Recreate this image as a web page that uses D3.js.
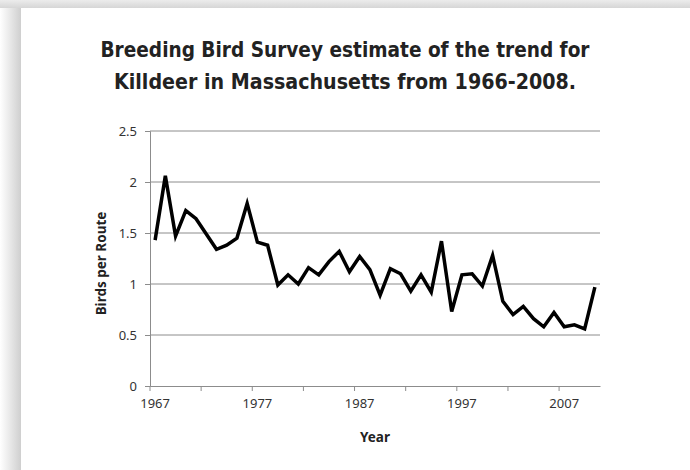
<!DOCTYPE html>
<html>
<head>
<meta charset="utf-8">
<script src="https://cdn.jsdelivr.net/npm/d3@7"></script>
<style>
  body { margin: 0; background: #fff; }
  svg { display: block; }
</style>
</head>
<body>
<div id="chart"></div>
<script>
// Killdeer, birds per route, one value per year
const years = d3.range(1967, 2011);
const birds = [
  1.43, 2.06, 1.47, 1.72, 1.64, 1.49, 1.34, 1.38, 1.45, 1.79,
  1.41, 1.38, 0.99, 1.09, 1.00, 1.16, 1.09, 1.22, 1.32, 1.12,
  1.27, 1.14, 0.89, 1.15, 1.10, 0.93, 1.09, 0.92, 1.42, 0.73,
  1.09, 1.10, 0.98, 1.28, 0.83, 0.70, 0.78, 0.66, 0.58, 0.72,
  0.58, 0.60, 0.56, 0.97
];
const yTicks = [0, 0.5, 1, 1.5, 2, 2.5];
const xLabels = [1967, 1977, 1987, 1997, 2007];
const xTickYears = years.filter(d => (d - 1967) % 5 === 0);
const titleLines = [
  "Breeding Bird Survey estimate of the trend for",
  "Killdeer in Massachusetts from 1966-2008."
];
const titleWidths = [489, 462];

const W = 690, H = 470;
const margin = {top: 131, right: 90, bottom: 84, left: 150};
const width = W - margin.left - margin.right;
const height = H - margin.top - margin.bottom;

const svg = d3.select("#chart").append("svg")
  .attr("width", W)
  .attr("height", H);

// page shadow
const defs = svg.append("defs");
const gTop = defs.append("linearGradient").attr("id", "shTop")
  .attr("x1", 0).attr("y1", 0).attr("x2", 0).attr("y2", 1);
gTop.append("stop").attr("offset", "0%").attr("stop-color", "#ececec");
gTop.append("stop").attr("offset", "100%").attr("stop-color", "#d6d6d6");
const gLeft = defs.append("linearGradient").attr("id", "shLeft")
  .attr("x1", 0).attr("y1", 0).attr("x2", 1).attr("y2", 0);
gLeft.append("stop").attr("offset", "0%").attr("stop-color", "#ffffff");
gLeft.append("stop").attr("offset", "100%").attr("stop-color", "#cfcfcf");

svg.append("rect").attr("x", 0).attr("y", 0).attr("width", W).attr("height", 8)
  .attr("fill", "url(#shTop)");
svg.append("rect").attr("x", 0).attr("y", 8).attr("width", 21).attr("height", H - 8)
  .attr("fill", "url(#shLeft)");
svg.append("rect").attr("x", 21).attr("y", 8).attr("width", W - 21).attr("height", H - 8)
  .attr("fill", "#fff");

// title
svg.append("g").selectAll("text")
  .data(titleLines)
  .join("text")
  .attr("x", 345)
  .attr("y", (d, i) => 57 + i * 32)
  .attr("text-anchor", "middle")
  .attr("font-family", "'DejaVu Sans Condensed', 'DejaVu Sans', sans-serif")
  .attr("font-stretch", "condensed")
  .attr("font-weight", "bold")
  .attr("font-size", 22)
  .attr("textLength", (d, i) => titleWidths[i])
  .attr("lengthAdjust", "spacingAndGlyphs")
  .attr("fill", "#222")
  .text(d => d);

const g = svg.append("g")
  .attr("transform", `translate(${margin.left},${margin.top})`);

const x = d3.scaleBand()
  .domain(years)
  .range([0, width])
  .paddingInner(0)
  .paddingOuter(0);

const y = d3.scaleLinear()
  .domain([0, 2.5])
  .range([height, 0]);

// gridlines
g.append("g").selectAll("line")
  .data(yTicks.filter(d => d > 0))
  .join("line")
  .attr("x1", 0).attr("x2", width)
  .attr("y1", d => y(d)).attr("y2", d => y(d))
  .attr("stroke", "#8c8c8c")
  .attr("stroke-width", 1);

// y axis
const yAxis = g.append("g")
  .call(d3.axisLeft(y).tickValues(yTicks).tickSize(5).tickPadding(8)
    .tickFormat(d3.format("")));
yAxis.select(".domain").attr("stroke", "#8c8c8c");
yAxis.selectAll(".tick line").attr("stroke", "#8c8c8c");
yAxis.selectAll("text")
  .attr("font-family", "'Noto Sans', sans-serif")
  .attr("font-size", 13)
  .attr("fill", "#333");

// x axis: labels centred on categories, ticks on category boundaries
const xAxis = g.append("g")
  .attr("transform", `translate(0,${height})`)
  .call(d3.axisBottom(x).tickValues(xLabels).tickSize(0).tickPadding(13));
xAxis.select(".domain").attr("stroke", "#8c8c8c");
xAxis.selectAll("text")
  .attr("font-family", "'Noto Sans', sans-serif")
  .attr("font-size", 13)
  .attr("fill", "#333");

xAxis.selectAll(".bound")
  .data(xTickYears)
  .join("line")
  .attr("class", "bound")
  .attr("x1", d => x(d)).attr("x2", d => x(d))
  .attr("y1", 0).attr("y2", 5)
  .attr("stroke", "#8c8c8c");

// axis titles
svg.append("text")
  .attr("x", margin.left + width / 2)
  .attr("y", 442)
  .attr("text-anchor", "middle")
  .attr("font-family", "'Noto Sans', sans-serif")
  .attr("font-weight", "bold")
  .attr("font-size", 13.5)
  .attr("fill", "#222")
  .text("Year");

svg.append("text")
  .attr("transform", `translate(106,${margin.top + height / 2 + 5}) rotate(-90)`)
  .attr("text-anchor", "middle")
  .attr("font-family", "'Noto Sans', sans-serif")
  .attr("font-weight", "bold")
  .attr("font-size", 13.5)
  .attr("fill", "#222")
  .text("Birds per Route");

// data line
const line = d3.line()
  .x((d, i) => x(years[i]) + x.bandwidth() / 2)
  .y(d => y(d));

g.append("path")
  .datum(birds)
  .attr("d", line)
  .attr("fill", "none")
  .attr("stroke", "#000")
  .attr("stroke-width", 3.5)
  .attr("stroke-linejoin", "miter");
</script>
</body>
</html>
